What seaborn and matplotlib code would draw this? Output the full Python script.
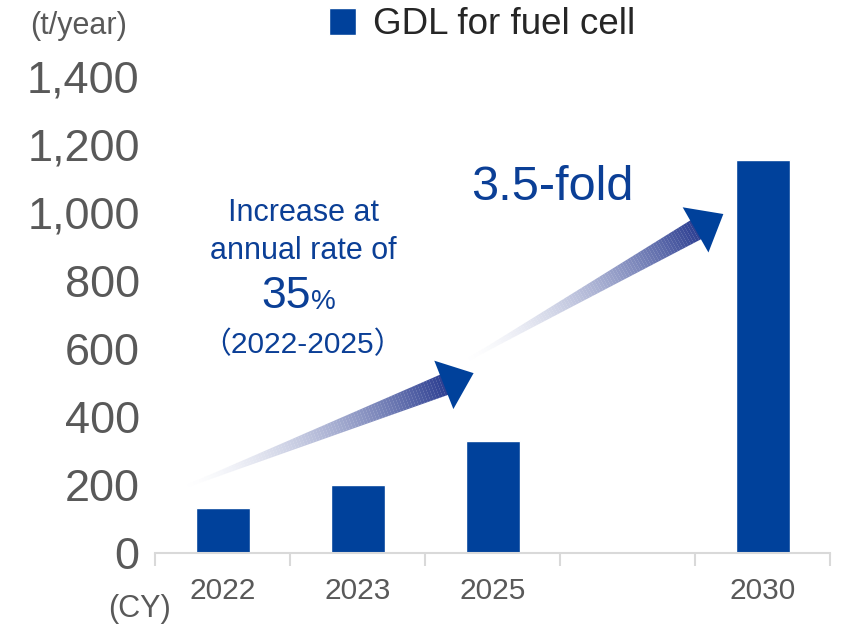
import numpy as np
import pandas as pd
import matplotlib
matplotlib.use("Agg")
import matplotlib.pyplot as plt
from matplotlib.patches import Polygon
from matplotlib.ticker import FuncFormatter, FixedLocator
import seaborn as sns

# chart data (t/year)
slots = ["2022", "2023", "2025", " ", "2030"]
years = ["2022", "2023", "2025", "2030"]
volume = [132, 200, 329, 1156]

# arrow anchors in data coords: (slot index, value)
arrow1 = [(-0.30, 191), (1.86, 529)]
arrow2 = [(1.79, 562), (3.71, 997)]

bar_color = "#00419B"
text_blue = "#0B3F96"
grey = "#595959"

sns.set_style("white")
plt.rcParams["font.family"] = ["Liberation Sans", "Noto Sans CJK JP", "DejaVu Sans"]

W, H = 843, 628
fig = plt.figure(figsize=(W / 100, H / 100), dpi=100)
ax = fig.add_axes([155 / W, 1 - 553 / H, 675 / W, 476 / H])

df = pd.DataFrame({"year": years, "volume": volume})
sns.barplot(data=df, x="year", y="volume", order=slots, color=bar_color,
            saturation=1, width=0.4, label="GDL for fuel cell", ax=ax)

ax.set_xlim(-0.5, 4.5)
ax.set_ylim(0, 1400)
ax.set_yticks(np.arange(0, 1401, 200))
ax.yaxis.set_major_formatter(FuncFormatter(lambda v, p: f"{int(v):,}"))
ax.set_xlabel("")
ax.set_ylabel("")

for side in ["left", "right", "top"]:
    ax.spines[side].set_visible(False)
ax.spines["bottom"].set_color("#D9D9D9")
ax.spines["bottom"].set_linewidth(1.5)

ax.xaxis.set_minor_locator(FixedLocator(np.arange(-0.5, 4.6, 1)))
ax.tick_params(axis="x", which="major", bottom=True, length=0, pad=17, labelsize=21.5, labelcolor=grey)
ax.tick_params(axis="x", which="minor", bottom=True, length=9, width=1.5, color="#D9D9D9", direction="out")
ax.tick_params(axis="y", length=0, pad=11, labelsize=32.5, labelcolor=grey)

# legend
leg = ax.legend(loc="center", bbox_to_anchor=(482 / W, 1 - 25 / H), bbox_transform=fig.transFigure,
                frameon=False, fontsize=26.5, handlelength=0.75, handleheight=0.75,
                handletextpad=0.45, borderpad=0)
for t in leg.get_texts():
    t.set_color("#262626")


def ftext(px, py, s, **kw):
    fig.text(px / W, 1 - py / H, s, **kw)


ftext(79, 26, "(t/year)", fontsize=22, color=grey, ha="center", va="center")
ftext(140, 609, "(CY)", fontsize=22, color=grey, ha="center", va="center")

# annotation texts
ftext(304, 213, "Increase at", fontsize=22, color=text_blue, ha="center", va="center")
ftext(303, 251, "annual rate of", fontsize=22, color=text_blue, ha="center", va="center")
ftext(311, 297, "35", fontsize=32, color=text_blue, ha="right", va="center")
ftext(311, 302, "%", fontsize=20, color=text_blue, ha="left", va="center")
ftext(303, 345, "\uff082022-2025\uff09", fontsize=21.5, color=text_blue, ha="center", va="center")
ftext(552, 188, "3.5-fold", fontsize=35, color=text_blue, ha="center", va="center")


def gradient_arrow(tail, tip, shaft_w=22, head_w=52, head_len=32, n=90):
    T = ax.transData
    inv = T.inverted()
    p0 = np.array(T.transform(tail))
    p1 = np.array(T.transform(tip))
    d = p1 - p0
    u = d / np.hypot(*d)
    nv = np.array([-u[1], u[0]])
    base = p1 - u * head_len
    c_end = np.array(matplotlib.colors.to_rgb("#2A3C90"))
    white = np.ones(3)
    for i in range(n):
        t0, t1 = i / n, (i + 1.05) / n
        a = p0 + (base + u * 4 - p0) * t0
        b = p0 + (base + u * 4 - p0) * min(t1, 1)
        w0 = shaft_w / 2 * (0.1 + 0.9 * t0)
        w1 = shaft_w / 2 * (0.1 + 0.9 * min(t1, 1))
        pts = np.array([a + nv * w0, b + nv * w1, b - nv * w1, a - nv * w0])
        tm = (t0 + t1) / 2
        col = white + (c_end - white) * tm ** 1.6
        ax.add_patch(Polygon(inv.transform(pts), closed=True, facecolor=col,
                             edgecolor="none", lw=0, zorder=3, clip_on=False))
    head = np.array([base + nv * head_w / 2, p1, base - nv * head_w / 2])
    ax.add_patch(Polygon(inv.transform(head), closed=True, facecolor=bar_color,
                         edgecolor="none", zorder=4, clip_on=False))


gradient_arrow(arrow1[0], arrow1[1])
gradient_arrow(arrow2[0], arrow2[1])

fig.savefig("out.png", dpi=100)
